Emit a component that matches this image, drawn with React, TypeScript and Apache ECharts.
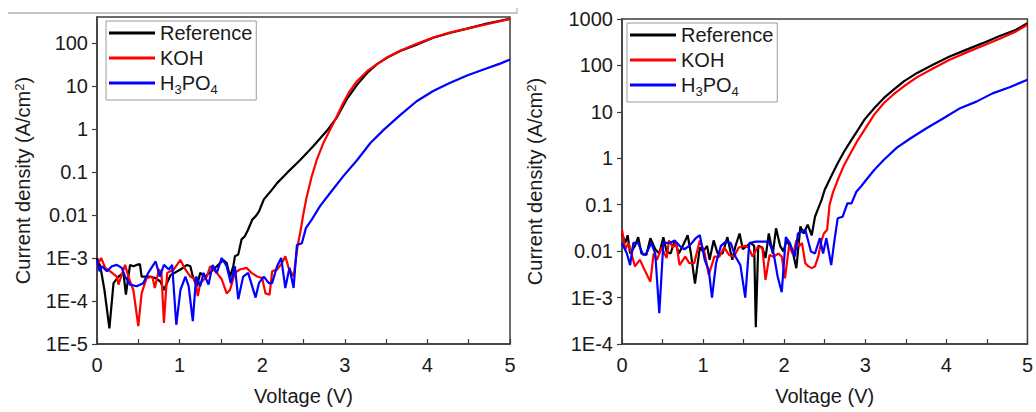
import React, { useEffect, useRef } from "react";
import * as echarts from "echarts";

const FONT = "'Liberation Sans', Arial, sans-serif";

const X_TICKS = [0, 1, 2, 3, 4, 5];
const SERIES_NAMES = ["Reference", "KOH", "H3PO4"];
const SERIES_COLORS = ["#000000", "#ff0000", "#0000ff"];

// Left panel: [voltage (V), current density (A/cm2)]
const LEFT_REFERENCE: [number, number][] = [
  [0, 1.0e-3], [0.04, 6.4e-4], [0.09, 1.8e-4], [0.15, 2.3e-5], [0.2, 2.6e-4], [0.26, 3.7e-4],
  [0.32, 4.5e-4], [0.35, 1.4e-4], [0.4, 6.9e-4], [0.44, 6.4e-4], [0.48, 6.9e-4], [0.52, 7.2e-4],
  [0.54, 3.7e-4], [0.63, 3.7e-4], [0.71, 3.4e-4], [0.77, 2.8e-4], [0.81, 1.8e-4], [0.89, 4.0e-4],
  [1.01, 5.4e-4], [1.09, 6.9e-4], [1.13, 6.4e-4], [1.16, 3.7e-4], [1.21, 2.2e-4], [1.25, 4.5e-4],
  [1.31, 3.7e-4], [1.41, 5.4e-4], [1.49, 7.6e-4], [1.53, 9.0e-4], [1.57, 7.6e-4], [1.61, 3.7e-4],
  [1.65, 6.4e-4], [1.67, 1.1e-3], [1.71, 1.2e-3], [1.75, 2.7e-3], [1.79, 3.2e-3], [1.83, 4.6e-3],
  [1.88, 7.8e-3], [1.92, 9.3e-3], [1.96, 1.2e-2], [2.02, 2.3e-2], [2.1, 3.5e-2], [2.18, 5.5e-2],
  [2.3, 9.5e-2], [2.46, 0.19], [2.62, 0.4], [2.78, 0.89], [2.9, 1.8], [3.02, 4.8], [3.15, 10.7],
  [3.27, 20], [3.39, 32], [3.51, 45], [3.67, 65], [3.87, 91], [4.07, 132], [4.27, 170],
  [4.48, 214], [4.72, 282], [5.0, 363],
];
const LEFT_KOH: [number, number][] = [
  [0, 6.5e-4], [0.05, 1.0e-3], [0.1, 5.9e-4], [0.16, 4.9e-4], [0.24, 3.7e-4], [0.26, 2.4e-4],
  [0.3, 4.1e-4], [0.34, 6.9e-4], [0.38, 3.7e-4], [0.44, 1.8e-4], [0.5, 2.6e-5], [0.54, 1.5e-4],
  [0.6, 3.4e-4], [0.67, 3.7e-4], [0.7, 2.0e-4], [0.75, 5.4e-4], [0.78, 4.5e-4], [0.81, 3.1e-5],
  [0.85, 4.5e-4], [0.93, 5.4e-4], [1.01, 9.0e-4], [1.07, 5.4e-4], [1.13, 3.7e-4], [1.19, 3.2e-4],
  [1.22, 1.3e-4], [1.25, 2.6e-4], [1.33, 3.7e-4], [1.37, 6.4e-4], [1.45, 4.5e-4], [1.51, 3.2e-4],
  [1.57, 1.5e-4], [1.61, 1.8e-4], [1.67, 4.5e-4], [1.73, 5.4e-4], [1.81, 5.9e-4], [1.87, 4.5e-4],
  [1.94, 3.7e-4], [2.0, 3.4e-4], [2.04, 1.5e-4], [2.09, 1.4e-4], [2.12, 4.9e-4], [2.18, 5.4e-4],
  [2.24, 7.6e-4], [2.28, 1.1e-3], [2.32, 5.9e-4], [2.38, 3.7e-4], [2.43, 2.0e-3], [2.46, 3.8e-3],
  [2.5, 1.1e-2], [2.54, 2.7e-2], [2.6, 7.9e-2], [2.66, 0.19], [2.74, 0.47], [2.82, 0.95],
  [2.9, 1.9], [2.98, 4.0], [3.06, 7.6], [3.15, 13], [3.27, 22], [3.39, 32], [3.51, 46],
  [3.67, 66], [3.87, 95], [4.07, 133], [4.27, 174], [4.48, 215], [4.72, 271], [5.0, 363],
];
const LEFT_H3PO4: [number, number][] = [
  [0, 9.1e-4], [0.03, 4.9e-4], [0.06, 6.4e-4], [0.12, 4.9e-4], [0.18, 6.4e-4], [0.24, 6.9e-4],
  [0.3, 5.9e-4], [0.34, 3.7e-4], [0.4, 2.4e-4], [0.48, 2.2e-4], [0.56, 2.6e-4], [0.62, 4.5e-4],
  [0.71, 8.3e-4], [0.76, 3.7e-4], [0.81, 6.9e-4], [0.87, 5.4e-4], [0.91, 6.9e-4], [0.96, 2.8e-5],
  [1.01, 1.8e-4], [1.07, 3.7e-4], [1.11, 2.2e-4], [1.16, 3.4e-5], [1.2, 3.7e-4], [1.25, 2.2e-4],
  [1.29, 4.5e-4], [1.35, 2.4e-4], [1.4, 6.9e-4], [1.45, 4.5e-4], [1.51, 1.0e-3], [1.57, 6.4e-4],
  [1.62, 2.6e-4], [1.67, 6.4e-4], [1.71, 1.1e-4], [1.77, 3.7e-4], [1.83, 4.5e-4], [1.92, 1.2e-4],
  [1.96, 2.6e-4], [2.02, 3.7e-4], [2.08, 2.6e-4], [2.12, 2.6e-4], [2.18, 6.4e-4], [2.23, 1.0e-3],
  [2.28, 2.0e-4], [2.33, 5.9e-4], [2.38, 2.0e-4], [2.42, 2.0e-3], [2.48, 2.2e-3], [2.53, 5.0e-3],
  [2.6, 7.8e-3], [2.7, 1.6e-2], [2.82, 3.2e-2], [2.98, 7.9e-2], [3.15, 0.19], [3.31, 0.47],
  [3.47, 0.95], [3.67, 2.1], [3.87, 4.4], [4.07, 7.6], [4.27, 11.7], [4.48, 17.4], [4.68, 24],
  [4.88, 33], [5.0, 41],
];

// Right panel: [voltage (V), current density (A/cm2)]
const RIGHT_REFERENCE: [number, number][] = [
  [0, 2.4e-2], [0.04, 1.5e-2], [0.07, 2.2e-2], [0.1, 8.9e-3], [0.16, 1.3e-2], [0.2, 2.0e-2],
  [0.24, 8.9e-3], [0.3, 8.3e-3], [0.35, 1.9e-2], [0.41, 1.1e-2], [0.46, 8.9e-3], [0.51, 2.0e-2],
  [0.55, 9.8e-3], [0.6, 8.9e-3], [0.65, 1.7e-2], [0.7, 8.9e-3], [0.75, 1.3e-2], [0.81, 2.2e-2],
  [0.85, 8.9e-3], [0.9, 2.0e-3], [0.96, 1.2e-2], [1.0, 9.8e-3], [1.05, 1.3e-2], [1.08, 6.5e-3],
  [1.13, 1.7e-2], [1.18, 8.9e-3], [1.24, 8.9e-3], [1.3, 2.0e-2], [1.36, 6.5e-3], [1.4, 1.3e-2],
  [1.45, 2.4e-2], [1.49, 1.1e-2], [1.54, 1.3e-2], [1.59, 1.5e-2], [1.63, 1.3e-2], [1.65, 2.3e-4],
  [1.68, 1.3e-2], [1.73, 1.2e-2], [1.77, 7.1e-3], [1.81, 2.4e-2], [1.86, 8.9e-3], [1.9, 3.1e-2],
  [1.95, 1.3e-2], [1.99, 9.8e-3], [2.03, 1.7e-2], [2.07, 1.3e-2], [2.11, 8.9e-3], [2.15, 4.3e-3],
  [2.2, 3.4e-2], [2.24, 2.4e-2], [2.29, 3.7e-2], [2.34, 2.2e-2], [2.38, 5.5e-2], [2.42, 8.3e-2],
  [2.46, 0.126], [2.5, 0.21], [2.58, 0.41], [2.66, 0.78], [2.74, 1.4], [2.83, 2.5], [2.91, 4.1],
  [2.99, 6.8], [3.11, 12], [3.23, 20], [3.35, 30], [3.48, 46], [3.64, 69], [3.84, 105],
  [4.04, 155], [4.25, 219], [4.45, 302], [4.65, 427], [4.86, 589], [5.0, 813],
];
const RIGHT_KOH: [number, number][] = [
  [0, 2.9e-2], [0.04, 1.1e-2], [0.08, 1.5e-2], [0.12, 8.3e-3], [0.16, 4.7e-3], [0.22, 6.5e-3],
  [0.28, 3.9e-3], [0.35, 2.2e-3], [0.39, 8.9e-3], [0.43, 6.5e-3], [0.49, 1.2e-2], [0.55, 7.1e-3],
  [0.58, 1.7e-2], [0.63, 1.2e-2], [0.67, 1.5e-2], [0.71, 5.0e-3], [0.78, 7.6e-3], [0.83, 5.5e-3],
  [0.89, 5.5e-3], [0.96, 1.7e-2], [1.02, 8.9e-3], [1.07, 3.1e-3], [1.14, 7.6e-3], [1.2, 7.6e-3],
  [1.26, 1.2e-2], [1.32, 8.3e-3], [1.38, 7.6e-3], [1.44, 1.2e-2], [1.52, 1.3e-2], [1.56, 1.2e-2],
  [1.61, 7.6e-3], [1.67, 1.2e-2], [1.73, 1.2e-2], [1.77, 2.4e-3], [1.82, 8.3e-3], [1.87, 7.6e-3],
  [1.93, 8.9e-3], [1.97, 7.6e-3], [2.01, 2.6e-3], [2.06, 1.3e-2], [2.11, 8.3e-3], [2.15, 1.7e-2],
  [2.19, 1.3e-2], [2.22, 1.5e-2], [2.26, 5.5e-3], [2.3, 4.7e-3], [2.34, 4.3e-3], [2.38, 4.7e-3],
  [2.42, 7.6e-3], [2.46, 1.7e-2], [2.49, 2.4e-2], [2.53, 2.9e-2], [2.56, 0.1], [2.6, 0.18],
  [2.66, 0.34], [2.74, 0.72], [2.83, 1.4], [2.91, 2.5], [2.99, 4.1], [3.11, 8.7], [3.23, 15.5],
  [3.35, 24], [3.48, 36], [3.64, 56], [3.84, 87], [4.04, 132], [4.25, 191], [4.45, 265],
  [4.65, 372], [4.86, 540], [5.0, 754],
];
const RIGHT_H3PO4: [number, number][] = [
  [0, 1.5e-2], [0.06, 8.9e-3], [0.1, 5.0e-3], [0.14, 1.5e-2], [0.2, 1.5e-2], [0.26, 8.3e-3],
  [0.3, 8.9e-3], [0.36, 1.5e-2], [0.41, 8.9e-3], [0.46, 4.6e-4], [0.51, 1.5e-2], [0.59, 1.5e-2],
  [0.65, 1.7e-2], [0.71, 1.3e-2], [0.77, 1.1e-2], [0.83, 1.3e-2], [0.91, 1.9e-2], [0.96, 2.2e-2],
  [1.02, 6.5e-3], [1.07, 3.9e-3], [1.11, 1.0e-3], [1.16, 5.5e-3], [1.22, 1.3e-2], [1.28, 1.6e-2],
  [1.34, 1.5e-2], [1.4, 7.6e-3], [1.46, 5.0e-3], [1.52, 1.0e-3], [1.57, 1.5e-2], [1.65, 1.6e-2],
  [1.75, 1.6e-2], [1.81, 1.6e-2], [1.87, 8.9e-3], [1.92, 2.8e-3], [1.97, 1.3e-3], [2.02, 2.0e-2],
  [2.07, 1.5e-2], [2.13, 7.6e-3], [2.17, 2.4e-2], [2.26, 2.9e-2], [2.33, 9.8e-3], [2.38, 8.9e-3],
  [2.44, 1.9e-2], [2.48, 8.9e-3], [2.52, 1.9e-2], [2.58, 5.0e-3], [2.62, 1.7e-2], [2.66, 5.1e-2],
  [2.72, 5.5e-2], [2.78, 0.107], [2.83, 0.107], [2.89, 0.19], [2.95, 0.25], [3.01, 0.34],
  [3.11, 0.56], [3.23, 0.93], [3.39, 1.7], [3.56, 2.7], [3.76, 4.5], [3.96, 7.2], [4.17, 12],
  [4.37, 16.6], [4.57, 25], [4.78, 34], [5.0, 49],
];

const LEFT_DATA = [LEFT_REFERENCE, LEFT_KOH, LEFT_H3PO4];
const RIGHT_DATA = [RIGHT_REFERENCE, RIGHT_KOH, RIGHT_H3PO4];

const yLabel = (v: number) => {
  const e = Math.round(Math.log10(v));
  if (e <= -3) return "1E" + e;
  if (e < 0) return (Math.pow(10, e)).toFixed(-e);
  return String(Math.round(Math.pow(10, e)));
};

const legendFormatter = (name: string) => (name === "H3PO4" ? "H{sub|3}PO{sub|4}" : name);

const AXIS_COLOR = "#3c3c3c";
const TEXT_COLOR = "#1a1a1a";

const makeXAxis = (gridIndex: number) => ({
  type: "value",
  gridIndex,
  min: X_TICKS[0],
  max: X_TICKS[X_TICKS.length - 1],
  interval: 1,
  name: "Voltage (V)",
  nameLocation: "middle",
  nameGap: 42,
  nameTextStyle: { fontFamily: FONT, fontSize: 20, color: TEXT_COLOR },
  axisLine: { show: true, lineStyle: { color: AXIS_COLOR, width: 1.5 } },
  axisTick: { show: true, inside: true, length: 5, lineStyle: { color: AXIS_COLOR, width: 1.2 } },
  minorTick: { show: true, splitNumber: 2, length: 5, lineStyle: { color: AXIS_COLOR, width: 1.2 } },
  splitLine: { show: false },
  axisLabel: { fontFamily: FONT, fontSize: 20, color: TEXT_COLOR, margin: 11 },
});

const makeYAxis = (gridIndex: number, min: number, max: number, nameGap: number, showMax: boolean) => ({
  type: "log",
  logBase: 10,
  gridIndex,
  min,
  max,
  splitNumber: 8,
  name: "Current density (A/cm{sup|2})",
  nameLocation: "middle",
  nameRotate: 90,
  nameGap,
  nameTextStyle: {
    fontFamily: FONT,
    fontSize: 20,
    color: TEXT_COLOR,
    lineHeight: 20,
    rich: {
      sup: { fontFamily: FONT, fontSize: 13, color: TEXT_COLOR, verticalAlign: "top", lineHeight: 13 },
    },
  },
  axisLine: { show: true, lineStyle: { color: AXIS_COLOR, width: 1.5 } },
  axisTick: { show: true, inside: false, length: 5, lineStyle: { color: AXIS_COLOR, width: 1.2 } },
  splitLine: { show: false },
  axisLabel: {
    fontFamily: FONT,
    fontSize: 20,
    color: TEXT_COLOR,
    margin: 9,
    showMaxLabel: showMax,
    formatter: yLabel,
  },
});

const makeLegend = (left: number, top: number) => ({
  orient: "vertical",
  left,
  top,
  icon: "rect",
  itemWidth: 46,
  itemHeight: 3,
  itemGap: 5,
  padding: [2, 4, 4, 3],
  borderColor: "#9a9a9a",
  borderWidth: 1,
  data: SERIES_NAMES,
  formatter: legendFormatter,
  textStyle: {
    fontFamily: FONT,
    fontSize: 20,
    lineHeight: 20,
    color: TEXT_COLOR,
    rich: {
      sub: {
        fontFamily: FONT,
        fontSize: 13,
        color: TEXT_COLOR,
        verticalAlign: "top",
        lineHeight: 13,
        height: 13,
        padding: [10, 0, 0, 0],
      },
    },
  },
});

export default function App() {
  const ref = useRef<HTMLDivElement>(null);
  useEffect(() => {
    if (!ref.current) return;
    const chart = echarts.init(ref.current, null, { renderer: "svg" });
    const series: any[] = [];
    [LEFT_DATA, RIGHT_DATA].forEach((group, gi) => {
      group.forEach((data, si) => {
        series.push({
          type: "line",
          name: SERIES_NAMES[si],
          xAxisIndex: gi,
          yAxisIndex: gi,
          data,
          symbol: "none",
          showSymbol: false,
          lineStyle: { color: SERIES_COLORS[si], width: 2.2 },
          itemStyle: { color: SERIES_COLORS[si] },
        });
      });
    });
    chart.setOption({
      animation: false,
      backgroundColor: "#ffffff",
      grid: [
        { left: 97, top: 17, width: 413, height: 327, show: true, borderColor: AXIS_COLOR, borderWidth: 1.5 },
        { left: 622, top: 19, width: 410, height: 325, show: true, borderColor: AXIS_COLOR, borderWidth: 1.5 },
      ],
      xAxis: [makeXAxis(0), makeXAxis(1)],
      yAxis: [makeYAxis(0, 1e-5, 400, 64, false), makeYAxis(1, 1e-4, 1000, 77, true)],
      legend: [makeLegend(106, 21), makeLegend(627, 23)],
      graphic: [
        { type: "line", shape: { x1: 8, y1: 13, x2: 517, y2: 13 }, style: { stroke: "#c4c4c4", lineWidth: 2 } },
        { type: "line", shape: { x1: 517, y1: 8, x2: 517, y2: 14 }, style: { stroke: "#c4c4c4", lineWidth: 1.5 } },
      ],
      series,
    });
    return () => chart.dispose();
  }, []);
  return (
    <div
      ref={ref}
      style={{ position: "absolute", left: 0, top: 0, width: 1036, height: 412, background: "#fff" }}
    />
  );
}
